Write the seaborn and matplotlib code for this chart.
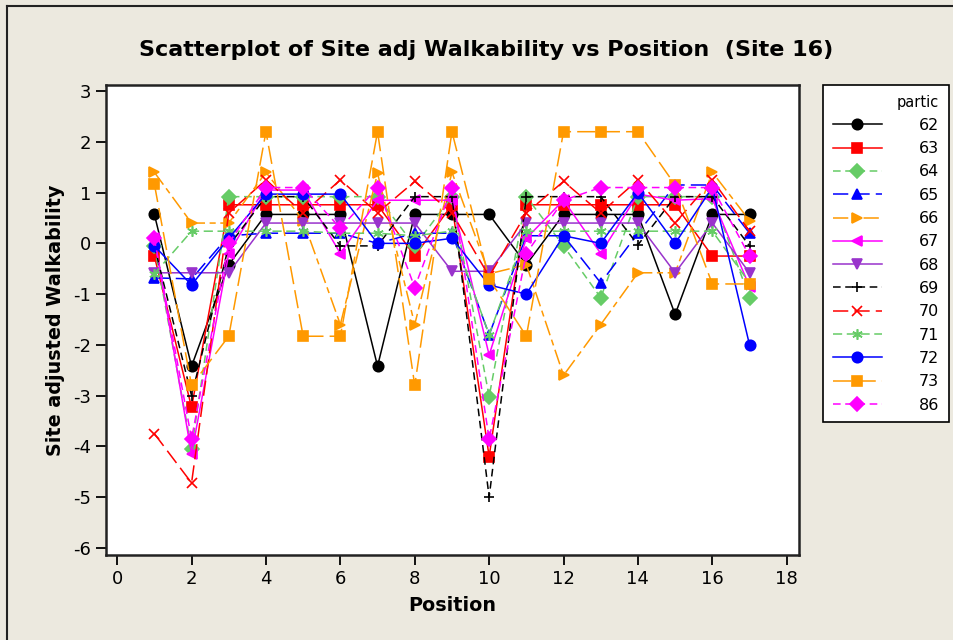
import numpy as np
import pandas as pd
import matplotlib
matplotlib.use('Agg')
import matplotlib.pyplot as plt
import seaborn as sns

# done yo (li sou grafik la)
position = list(range(1, 18))
p62 = [0.57, -2.42, -0.42, 0.57, 0.57, 0.57, -2.42, 0.57, 0.57, 0.57, -0.42, 0.57, 0.57, 0.57, -1.40, 0.57, 0.57]
p63 = [-0.25, -3.23, 0.76, 0.76, 0.76, 0.76, 0.76, -0.25, 0.76, -4.20, 0.76, 0.76, 0.76, 0.76, 0.76, -0.25, -0.25]
p64 = [-0.05, -4.05, 0.92, 0.92, 0.92, 0.92, 0.92, -0.05, 0.92, -3.02, 0.92, -0.05, -1.07, 0.92, 0.92, 0.92, -1.07]
p65 = [-0.68, -0.70, 0.15, 0.20, 0.20, 0.20, 0.00, 0.20, 0.20, -1.80, 0.15, 0.15, -0.78, 0.20, 1.15, 1.15, 0.20]
p66 = [1.40, 0.40, 0.40, 1.40, 0.45, -1.60, 1.38, -1.60, 1.40, -0.60, -0.42, -2.60, -1.60, -0.58, -0.58, 1.40, 0.45]
p67 = [0.10, -4.15, -0.20, 1.05, 1.05, -0.20, 0.85, 0.85, 0.85, -2.20, 0.10, 0.85, -0.20, 0.97, 0.85, 0.88, -0.85]
p68 = [-0.58, -0.58, -0.58, 0.40, 0.40, 0.40, 0.40, 0.40, -0.55, -0.55, 0.40, 0.40, 0.40, 0.40, -0.58, 0.40, -0.58]
p69 = [-0.05, -3.00, -0.05, 0.92, 0.92, -0.05, -0.05, 0.92, 0.92, -5.00, 0.92, 0.92, 0.92, -0.03, 0.92, 0.92, -0.05]
p70 = [-3.75, -4.72, 0.60, 1.25, 0.60, 1.25, 0.60, 1.22, 0.60, -0.65, 0.60, 1.22, 0.60, 1.25, 0.40, 1.25, 0.24]
p71 = [-0.60, 0.24, 0.24, 0.24, 0.24, 0.20, 0.20, 0.15, 0.24, -1.80, 0.24, 0.24, 0.24, 0.24, 0.24, 0.24, -0.78]
p72 = [-0.05, -0.82, 0.10, 0.97, 0.97, 0.97, 0.00, 0.00, 0.10, -0.82, -1.00, 0.15, 0.00, 1.00, 0.00, 1.10, -2.00]
p73 = [1.17, -2.80, -1.83, 2.20, -1.83, -1.83, 2.20, -2.80, 2.20, -0.70, -1.83, 2.20, 2.20, 2.20, 1.15, -0.80, -0.80]
p86 = [0.10, -3.85, 0.00, 1.10, 1.10, 0.30, 1.10, -0.87, 1.10, -3.86, -0.20, 0.85, 1.10, 1.10, 1.10, 1.10, -0.25]

partic = ['62', '63', '64', '65', '66', '67', '68', '69', '70', '71', '72', '73', '86']
seri = [p62, p63, p64, p65, p66, p67, p68, p69, p70, p71, p72, p73, p86]

koule = ['black', '#FF0000', '#66CC66', '#0000FF', '#FF9900', '#FF00FF', '#9933CC',
         'black', '#FF0000', '#66CC66', '#0000FF', '#FF9900', '#FF00FF']
mak = ['o', 's', 'D', '^', '>', '<', 'v', '+', 'x', (6, 2, 0), 'o', 's', 'D']
tire = ['-', '-', (0, (5, 3)), (0, (10, 4)), (0, (10, 3, 4, 3)), '-', '-',
        (0, (5, 3)), (0, (10, 4)), (0, (6, 3)), '-', (0, (12, 4)), (0, (5, 3))]

plt.rcParams['axes.unicode_minus'] = False

bg = '#ECE9DF'
fig = plt.figure(figsize=(9.54, 6.4), dpi=100, facecolor=bg)
ax = fig.add_axes([106 / 954, 1 - 555 / 640, 693 / 954, 470 / 640])
ax.set_facecolor('white')

# trase chak patisipan youn apre lòt
for non, val, c, m, ls in zip(partic, seri, koule, mak, tire):
    sns.lineplot(x=position, y=val, color=c, marker=m, linestyle=ls,
                 markersize=7.5, linewidth=1.1, ax=ax, legend=False)

for ln in ax.lines:
    ln.set_markeredgecolor(ln.get_color())
    ln.set_markeredgewidth(1.2)

ax.set_xlim(-0.3, 18.33)
ax.set_ylim(-6.14, 3.12)
ax.set_xticks(range(0, 19, 2))
ax.set_yticks(range(-6, 4))
ax.tick_params(direction='out', length=7, width=1.3, labelsize=13, colors='black')
for s in ax.spines.values():
    s.set_linewidth(1.8)
    s.set_color('#222222')

ax.set_xlabel('Position', fontsize=13.8, fontweight='bold', labelpad=6)
ax.set_ylabel('Site adjusted Walkability', fontsize=13.8, fontweight='bold', labelpad=6)
fig.text(0.5095, 1 - 50 / 640, 'Scatterplot of Site adj Walkability vs Position  (Site 16)',
         ha='center', va='center', fontsize=16, fontweight='bold')

# lejand
handles = ax.lines[:len(partic)]
leg = fig.legend(handles, partic, loc='upper left', bbox_to_anchor=(823 / 954, 1 - 85 / 640),
                 borderaxespad=0, title='partic', fontsize=11.5, title_fontsize=10.5,
                 frameon=True, fancybox=False, edgecolor='black', facecolor='white',
                 framealpha=1, handlelength=3.1, handletextpad=2.3, labelspacing=0.52,
                 borderpad=0.6, alignment='right')
leg.get_frame().set_linewidth(1.2)

# bòdi figi a
fig.add_artist(plt.Line2D([7 / 954, 7 / 954], [0, 1 - 6 / 640], color='#222222', lw=1.5,
                          transform=fig.transFigure))
fig.add_artist(plt.Line2D([7 / 954, 1], [1 - 6 / 640, 1 - 6 / 640], color='#222222', lw=1.5,
                          transform=fig.transFigure))

fig.savefig('out.png', dpi=100, facecolor=bg)
